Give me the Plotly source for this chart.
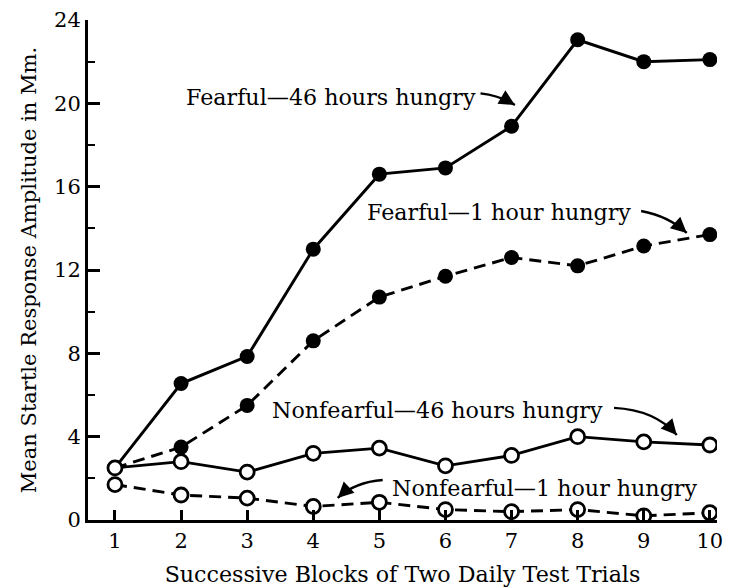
import plotly.graph_objects as go

# ---- data ----
blocks = [1, 2, 3, 4, 5, 6, 7, 8, 9, 10]
fearful_46 = [2.5, 6.55, 7.85, 13.0, 16.6, 16.9, 18.9, 23.05, 22.0, 22.1]
fearful_1 = [2.5, 3.5, 5.5, 8.6, 10.7, 11.7, 12.6, 12.2, 13.15, 13.7]
nonfearful_46 = [2.5, 2.8, 2.3, 3.2, 3.45, 2.6, 3.1, 4.0, 3.75, 3.6]
nonfearful_1 = [1.7, 1.2, 1.05, 0.65, 0.85, 0.5, 0.4, 0.5, 0.2, 0.35]
y_ticks = [0, 4, 8, 12, 16, 20, 24]
y_minor_ticks = [2, 6, 10, 14, 18, 22]
labels = ["Fearful\u201446 hours hungry", "Fearful\u20141 hour hungry",
          "Nonfearful\u201446 hours hungry", "Nonfearful\u20141 hour hungry"]
x_title = "Successive Blocks of Two Daily Test Trials"
y_title = "Mean Startle Response Amplitude in Mm."

FONT = "DejaVu Serif"
FS_TICK = 21
FS_ANN = 22.2

fig = go.Figure()

def add(y, dash, filled):
    fig.add_trace(go.Scatter(
        x=blocks, y=y, mode="lines+markers",
        line=dict(color="black", width=2.9, dash=dash),
        marker=dict(symbol="circle", size=15 if filled else 14,
                    color="black" if filled else "white",
                    line=dict(color="black", width=0 if filled else 2.8)),
        showlegend=False, hoverinfo="skip"))

add(fearful_46, "solid", True)
add(fearful_1, "12px,7px", True)
add(nonfearful_1, "12px,7px", False)
add(nonfearful_46, "solid", False)

ann_font = dict(family=FONT, size=FS_ANN, color="black")
# text labels (left edge, vertical centre) in data units
text_pos = [(2.04, 20.3), (4.78, 14.79), (3.34, 5.28), (5.16, 1.54)]
for lab, (tx, ty) in zip(labels, text_pos):
    fig.add_annotation(x=tx, y=ty, text=lab, showarrow=False,
                       xanchor="left", yanchor="middle", font=ann_font)

# curved arrows: tail, control, tip (data units) + arrowhead direction (px)
arrows = [
    ((6.53, 20.48), (6.84, 20.36), (7.05, 19.92), (-8.6, -5.1)),
    ((8.96, 14.83), (9.37, 14.59), (9.65, 13.78), (-7.5, -6.7)),
    ((8.55, 5.38), (9.17, 5.28), (9.50, 4.08), (-6.6, -7.5)),
    ((5.05, 1.92), (4.63, 1.82), (4.37, 1.06), (7.3, -6.9)),
]
for (t0, t1), (c0, c1), (h0, h1), (dx, dy) in arrows:
    fig.add_shape(type="path", xref="x", yref="y",
                  path=f"M {t0},{t1} Q {c0},{c1} {h0},{h1}",
                  line=dict(color="black", width=2.4))
    fig.add_annotation(x=h0, y=h1, ax=dx, ay=dy, xref="x", yref="y",
                       text="", showarrow=True, arrowhead=2, arrowsize=1.3,
                       arrowwidth=2.4, arrowcolor="black", standoff=0)

fig.update_layout(
    width=732, height=587,
    margin=dict(l=88, r=15, t=20, b=67),
    paper_bgcolor="white", plot_bgcolor="white",
    font=dict(family=FONT, size=FS_TICK, color="black"),
    xaxis=dict(range=[0.592, 10.108], tickvals=blocks, ticks="inside",
               ticklen=10, tickwidth=2.5, tickcolor="black",
               showline=True, linewidth=3, linecolor="black",
               showgrid=False, zeroline=False, automargin=False,
               tickfont=dict(family=FONT, size=FS_TICK),
               title=dict(text=x_title, font=dict(family=FONT, size=FS_ANN),
                          standoff=16)),
    yaxis=dict(range=[0, 24], tickvals=y_ticks, ticks="inside",
               ticklen=12, tickwidth=2.5, tickcolor="black",
               showline=True, linewidth=3, linecolor="black",
               showgrid=False, zeroline=False, automargin=False,
               minor=dict(tickvals=y_minor_ticks, ticks="inside",
                          ticklen=7, tickwidth=2, tickcolor="black",
                          showgrid=False),
               tickfont=dict(family=FONT, size=FS_TICK),
               title=dict(text=y_title, font=dict(family=FONT, size=FS_TICK),
                          standoff=12)),
)

fig.write_html("out.html", config={"displayModeBar": False},
               post_script="document.body.style.margin='0';"
                           "document.body.style.overflow='hidden';")
